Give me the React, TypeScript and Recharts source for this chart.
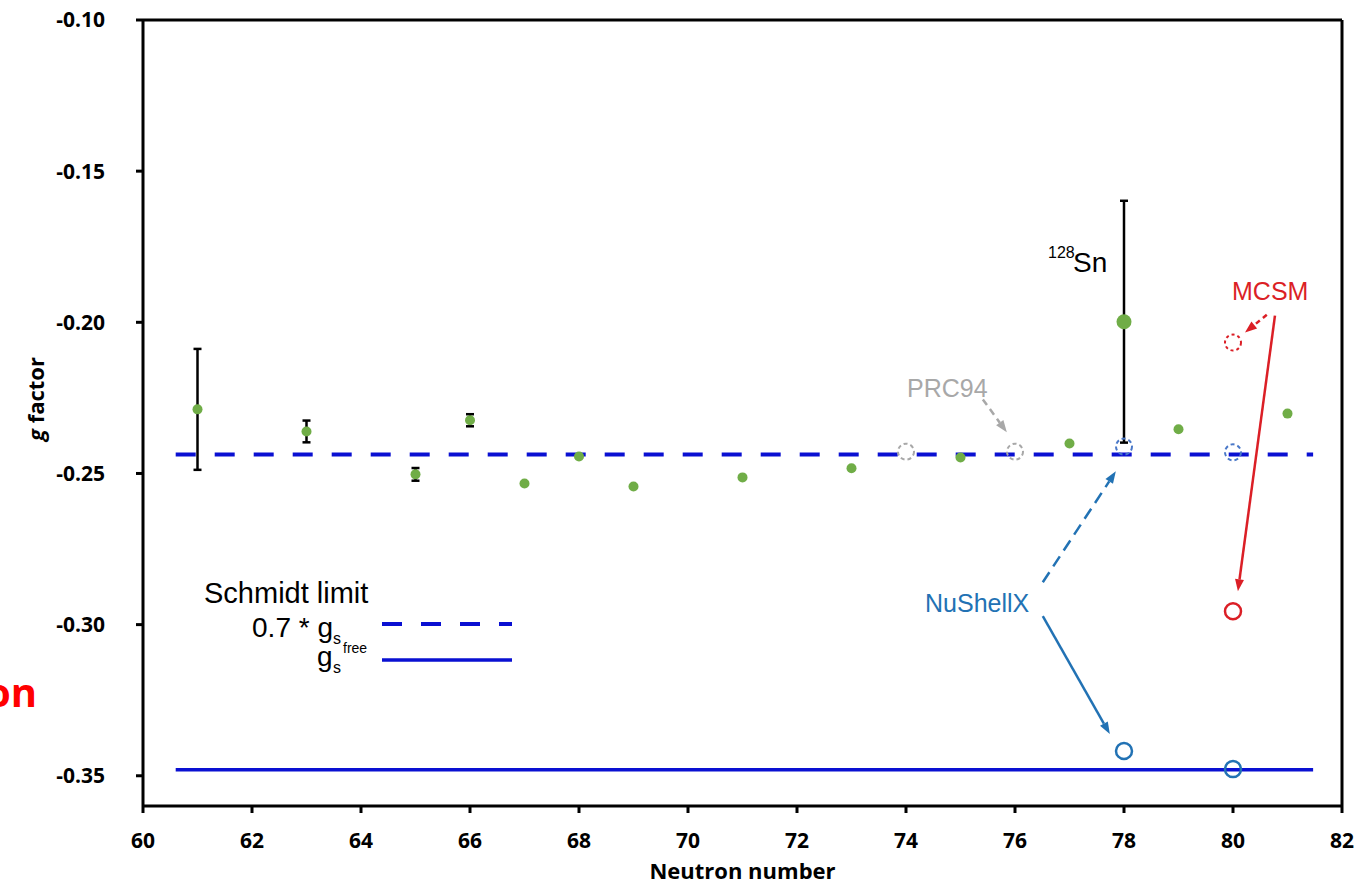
import { ScatterChart, Scatter, XAxis, YAxis, ErrorBar, ReferenceLine } from "recharts";

// measured g factors of the 10+ isomers in the Sn chain
const MEASURED_N = [61, 63, 65, 66, 67, 68, 69, 71, 73, 75, 77, 78, 79, 81];
const MEASURED_G = [
    -0.2288, -0.2361, -0.2503, -0.2324, -0.2533, -0.2444, -0.2543,
    -0.2513, -0.2483, -0.2447, -0.2401, -0.1998, -0.2354, -0.2302,
];
const MEASURED_ERR = [0.02, 0.0036, 0.0021, 0.002, null, null, null, null, null, null, null, 0.04, null, null];
const HIGHLIGHT_N = 78; // 128Sn

// shell-model calculations
const PRC94_N = [74, 76];
const PRC94_G = [-0.2428, -0.2428];
const NUSHELLX_N = [78, 80];
const NUSHELLX_EFF_G = [-0.2411, -0.243];
const NUSHELLX_FREE_G = [-0.3418, -0.3478];
const MCSM_N = [80];
const MCSM_EFF_G = [-0.2067];
const MCSM_FREE_G = [-0.2956];

// Schmidt limits for the h11/2 neutron
const SCHMIDT_SPAN = [60.6, 81.47];
const SCHMIDT_FREE = -0.348;
const SCHMIDT_QUENCHED = -0.2437;

const X_TICKS = [60, 62, 64, 66, 68, 70, 72, 74, 76, 78, 80, 82];
const Y_TICKS = [-0.35, -0.3, -0.25, -0.2, -0.15, -0.1];

const GREEN = "#70AD47";
const BLUE = "#0A10D2";
const NU_BLUE = "#2272B4";
const RED = "#DB1F26";
const GRAY = "#A8A8A8";
const ANNOT_FONT = "'Liberation Sans', Arial, sans-serif";
const AXIS_FONT = "'Open Sans', sans-serif";

const zip = (ns: number[], gs: number[]) => ns.map((n, i) => ({ x: n, y: gs[i] }));

const measured = MEASURED_N.map((n, i) => ({ x: n, y: MEASURED_G[i], err: MEASURED_ERR[i] }));
const prc94 = zip(PRC94_N, PRC94_G);
const nuEff = zip(NUSHELLX_N, NUSHELLX_EFF_G);
const nuFree = zip(NUSHELLX_N, NUSHELLX_FREE_G);
const mcsmEff = zip(MCSM_N, MCSM_EFF_G);
const mcsmFree = zip(MCSM_N, MCSM_FREE_G);
const schmidtFree = SCHMIDT_SPAN.map((x) => ({ x, y: SCHMIDT_FREE }));
const schmidtQuenched = SCHMIDT_SPAN.map((x) => ({ x, y: SCHMIDT_QUENCHED }));

const greenDot = (p: any) => (
    <circle cx={p.cx} cy={p.cy} r={p.payload?.x === HIGHLIGHT_N ? 7.5 : 5} fill={GREEN} />
);

const ring = (color: string, width: number, dash?: string) => (p: any) => (
    <circle cx={p.cx} cy={p.cy} r={8} fill="none" stroke={color} strokeWidth={width} strokeDasharray={dash} />
);

const noMark = () => <g />;

// straight line with a filled head at the (x2, y2) end
const arrow = (color: string, dash?: string) => (p: any) => {
    const { x1, y1, x2, y2 } = p;
    const a = Math.atan2(y2 - y1, x2 - x1);
    const len = 12;
    const half = 4.5;
    const bx = x2 - len * Math.cos(a);
    const by = y2 - len * Math.sin(a);
    const ox = -Math.sin(a) * half;
    const oy = Math.cos(a) * half;
    return (
        <g>
            <line x1={x1} y1={y1} x2={bx} y2={by} stroke={color} strokeWidth={2.5} strokeDasharray={dash} />
            <polygon points={`${x2},${y2} ${bx + ox},${by + oy} ${bx - ox},${by - oy}`} fill={color} />
        </g>
    );
};

const tickStyle = { fill: "#000", fontSize: 21, fontWeight: 700, fontFamily: AXIS_FONT };
const axisStroke = { stroke: "#000", strokeWidth: 3 };

const YTitle = () => (
    <text
        x={35}
        y={399}
        transform="rotate(-90 35 399)"
        textAnchor="middle"
        dominantBaseline="central"
        fontFamily={AXIS_FONT}
        fontSize={22}
        fontWeight={700}
        fill="#000"
    >
        <tspan fontStyle="italic">g</tspan> factor
    </text>
);

export default function App() {
    return (
        <div style={{ position: "absolute", left: 0, top: 0, width: 1360, height: 885, background: "#fff" }}>
            <ScatterChart width={1360} height={885} margin={{ top: 20, right: 18, bottom: 0, left: 0 }}>
                <XAxis
                    type="number"
                    dataKey="x"
                    domain={[60, 82]}
                    ticks={X_TICKS}
                    height={79}
                    tickSize={7}
                    tickMargin={20}
                    axisLine={axisStroke}
                    tickLine={axisStroke}
                    tick={tickStyle}
                    label={{
                        value: "Neutron number",
                        position: "insideBottom",
                        offset: 6,
                        fill: "#000",
                        fontSize: 22,
                        fontWeight: 700,
                        fontFamily: AXIS_FONT,
                    }}
                />
                <YAxis
                    type="number"
                    dataKey="y"
                    domain={[-0.36, -0.1]}
                    ticks={Y_TICKS}
                    width={143}
                    tickSize={7}
                    tickMargin={31}
                    tickFormatter={(v: number) => v.toFixed(2)}
                    axisLine={axisStroke}
                    tickLine={axisStroke}
                    tick={tickStyle}
                    label={<YTitle />}
                />
                <ReferenceLine y={-0.1} stroke="#000" strokeWidth={3} />
                <ReferenceLine x={82} stroke="#000" strokeWidth={3} />

                <Scatter
                    data={schmidtQuenched}
                    line={{ stroke: BLUE, strokeWidth: 4, strokeDasharray: "20 19" }}
                    shape={noMark}
                    isAnimationActive={false}
                />
                <Scatter data={schmidtFree} line={{ stroke: BLUE, strokeWidth: 3.5 }} shape={noMark} isAnimationActive={false} />

                <Scatter data={prc94} shape={ring(GRAY, 2, "4 3")} isAnimationActive={false} />
                <Scatter data={nuEff} shape={ring("#4A78C8", 2, "4 3")} isAnimationActive={false} />
                <Scatter data={mcsmEff} shape={ring(RED, 2, "3 3")} isAnimationActive={false} />
                <Scatter data={nuFree} shape={ring(NU_BLUE, 2.5)} isAnimationActive={false} />
                <Scatter data={mcsmFree} shape={ring(RED, 2.5)} isAnimationActive={false} />

                <Scatter data={measured} shape={greenDot} isAnimationActive={false}>
                    <ErrorBar dataKey="err" direction="y" width={4} stroke="#000" strokeWidth={2.5} />
                </Scatter>

                {/* annotation arrows */}
                <ReferenceLine segment={[{ x: 75.41, y: -0.2255 }, { x: 75.85, y: -0.2364 }]} shape={arrow(GRAY, "7 5")} />
                <ReferenceLine segment={[{ x: 80.62, y: -0.1975 }, { x: 80.22, y: -0.2034 }]} shape={arrow(RED, "5 4")} />
                <ReferenceLine segment={[{ x: 80.77, y: -0.1978 }, { x: 80.09, y: -0.289 }]} shape={arrow(RED)} />
                <ReferenceLine segment={[{ x: 76.51, y: -0.286 }, { x: 77.85, y: -0.2493 }]} shape={arrow(NU_BLUE, "12 7")} />
                <ReferenceLine segment={[{ x: 76.51, y: -0.2972 }, { x: 77.74, y: -0.3362 }]} shape={arrow(NU_BLUE)} />
            </ScatterChart>

            {/* labels and the Schmidt-limit key */}
            <svg width={1360} height={885} style={{ position: "absolute", left: 0, top: 0, pointerEvents: "none" }}>
                <text x={37} y={707} textAnchor="end" fontFamily={AXIS_FONT} fontWeight={700} fontSize={40} fill="#FF0000">
                    on
                </text>

                <g fontFamily={ANNOT_FONT} fill="#000">
                    <text x={204} y={603} fontSize={29}>Schmidt limit</text>
                    <text x={341} y={637} fontSize={28} textAnchor="end">
                        0.7 * g<tspan fontSize={16} dy={7}>s</tspan>
                    </text>
                    <text x={317} y={666} fontSize={28}>g</text>
                    <text x={333} y={673} fontSize={16}>s</text>
                    <text x={343} y={653} fontSize={14}>free</text>
                </g>
                <line x1={382} y1={624} x2={512} y2={624} stroke={BLUE} strokeWidth={4} strokeDasharray="20 19" />
                <line x1={382} y1={660} x2={512} y2={660} stroke={BLUE} strokeWidth={3.5} />

                <text x={1048} y={258} fontFamily={ANNOT_FONT} fontSize={16} fill="#000">128</text>
                <text x={1073} y={272} fontFamily={ANNOT_FONT} fontSize={28} fill="#000">Sn</text>
                <text x={1232} y={300} fontFamily={ANNOT_FONT} fontSize={25} fill={RED}>MCSM</text>
                <text x={907} y={397} fontFamily={ANNOT_FONT} fontSize={25} fill={GRAY}>PRC94</text>
                <text x={925} y={612} fontFamily={ANNOT_FONT} fontSize={25} fill={NU_BLUE}>NuShellX</text>
            </svg>
        </div>
    );
}
